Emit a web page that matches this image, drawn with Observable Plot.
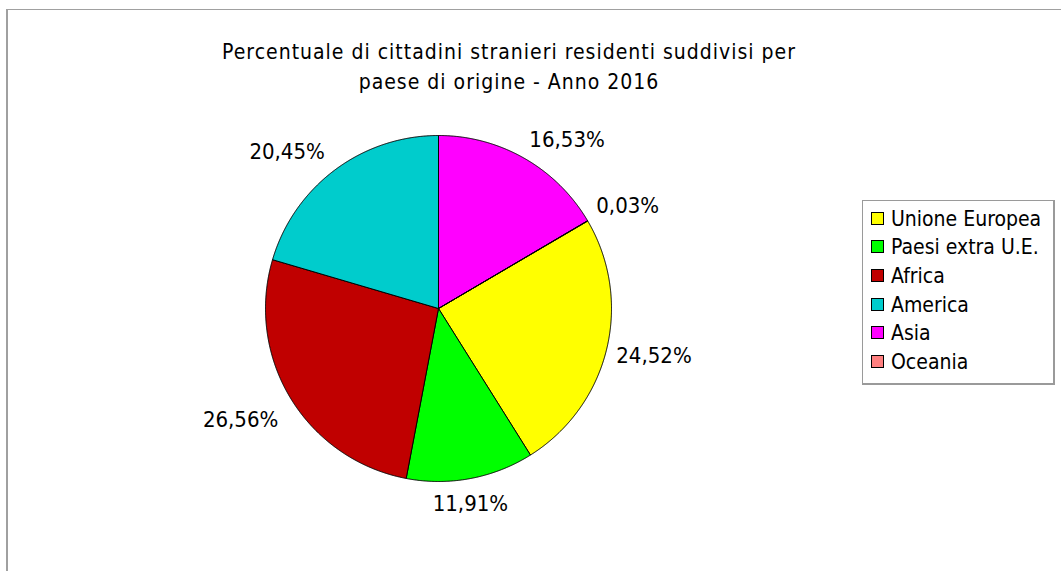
<!DOCTYPE html>
<html>
<head>
<meta charset="utf-8">
<script src="https://cdn.jsdelivr.net/npm/d3@7"></script>
<script src="https://cdn.jsdelivr.net/npm/@observablehq/plot@0.6"></script>
<style>
  body { margin: 0; background: #fff; }
  #wrap { position: relative; width: 1061px; height: 571px; overflow: hidden;
          font-family: "DejaVu Sans Condensed", "DejaVu Sans", sans-serif; font-stretch: condensed; color: #000; }
  #frame { position: absolute; left: 6px; top: 9px; width: 1200px; height: 800px;
           border-left: 2px solid #a0a0a0; border-top: 1px solid #a0a0a0; }
  #chart { position: absolute; left: 0; top: 0; }
  #title { position: absolute; left: 159px; width: 700px; top: 37px; text-align: center;
           font-size: 21px; line-height: 30px; letter-spacing: 1px; }
  #legend { position: absolute; left: 862px; top: 200px; width: 190px; height: 182px;
            border: 1px solid #9a9a9a; border-right: 2px solid #9a9a9a; border-bottom: 2px solid #9a9a9a; background: #fff; }
  .item { position: absolute; left: 8px; height: 20px; font-size: 21px; line-height: 20px; white-space: nowrap; }
  .sw { position: absolute; left: 0; top: 3px; width: 11px; height: 11px; border: 1px solid #000; }
  .lab { position: absolute; left: 20px; top: 0; }
</style>
</head>
<body>
<div id="wrap">
  <div id="frame"></div>
  <div id="chart"></div>
  <div id="title">Percentuale di cittadini stranieri residenti suddivisi per<br>paese di origine - Anno 2016</div>
  <div id="legend"></div>
</div>
<script>
// ---- data ----
const categories = ["Unione Europea", "Paesi extra U.E.", "Africa", "America", "Asia", "Oceania"];
const percentages = [24.52, 11.91, 26.56, 20.45, 16.53, 0.03];
const colors = ["#ffff00", "#00ff00", "#c00000", "#00cccc", "#ff00ff", "#ff8080"];

// ---- layout constants ----
const W = 1061, H = 571;
const CX = 438, CY = 308, R = 173;           // pie centre and radius in px
const START_DEG = 59.62;                       // first slice starts here (clockwise from 12 o'clock)
const LABEL_OFFSET = 10;                       // px beyond the rim

const rows = categories.map((c, i) => ({cat: c, value: percentages[i], color: colors[i]}));
const arcs = d3.pie().sort(null).value(d => d.value)
  .startAngle(START_DEG * Math.PI / 180)
  .endAngle(START_DEG * Math.PI / 180 + 2 * Math.PI)(rows);

// polygon points for each slice (unit radius, y pointing down)
const step = 0.25 * Math.PI / 180;
const polyPoints = [];
for (const a of arcs) {
  const n = Math.max(2, Math.ceil((a.endAngle - a.startAngle) / step));
  polyPoints.push({cat: a.data.cat, x: 0, y: 0});
  for (let k = 0; k <= n; k++) {
    const t = a.startAngle + (a.endAngle - a.startAngle) * k / n;
    polyPoints.push({cat: a.data.cat, x: Math.sin(t), y: -Math.cos(t)});
  }
  polyPoints.push({cat: a.data.cat, x: 0, y: 0});
}

// labels
const fmt = v => v.toFixed(2).replace(".", ",") + "%";
const labelRows = arcs.map(a => {
  const m = (a.startAngle + a.endAngle) / 2;
  const s = Math.sin(m), c = Math.cos(m);
  const rr = (R + LABEL_OFFSET) / R;
  return {
    text: fmt(a.data.value), x: rr * s, y: -rr * c,
    h: s > 0.3 ? "start" : s < -0.3 ? "end" : "middle",
    v: c > 0.3 ? "bottom" : c < -0.3 ? "top" : "middle"
  };
});
const vdy = {bottom: -3, top: 7, middle: 4};
const hdx = {start: 0, middle: -2, end: -4};
const textMarks = [];
for (const h of ["start", "middle", "end"]) for (const v of ["top", "middle", "bottom"]) {
  const sub = labelRows.filter(d => d.h === h && d.v === v);
  if (!sub.length) continue;
  textMarks.push(Plot.text(sub, {
    x: "x", y: "y", text: "text", textAnchor: h, lineAnchor: v, dy: vdy[v], dx: hdx[h],
    fontSize: 22, fill: "#000"
  }));
}

const chart = Plot.plot({
  width: W, height: H, margin: 0,
  style: {background: "transparent", fontFamily: "'DejaVu Sans Condensed','DejaVu Sans',sans-serif", fontStretch: "condensed"},
  x: {domain: [-CX / R, (W - CX) / R], axis: null},
  y: {domain: [(H - CY) / R, -CY / R], axis: null},
  color: {domain: categories, range: colors},
  marks: [
    Plot.line(polyPoints, {x: "x", y: "y", z: "cat", fill: "cat", stroke: "#000", strokeWidth: 1, curve: "linear", strokeLinejoin: "miter"}),
    ...textMarks
  ]
});
document.getElementById("chart").appendChild(chart);

// legend
const legend = document.getElementById("legend");
categories.forEach((c, i) => {
  const it = document.createElement("div");
  it.className = "item";
  it.style.top = (7.5 + i * 28.7) + "px";
  it.innerHTML = `<span class="sw" style="background:${colors[i]}"></span><span class="lab">${c}</span>`;
  legend.appendChild(it);
});
</script>
</body>
</html>
